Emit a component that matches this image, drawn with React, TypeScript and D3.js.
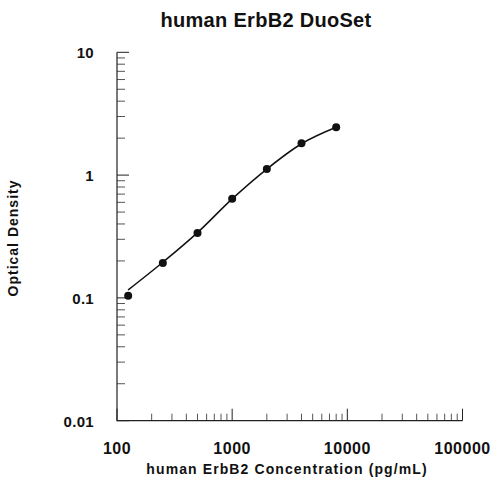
import React, { useEffect, useRef } from 'react';
import * as d3 from 'd3';

const concentrations = [125, 250, 500, 1000, 2000, 4000, 8000];
const odValues = [0.104, 0.192, 0.337, 0.641, 1.12, 1.82, 2.45];
// fitted curve values
const fitValues = [0.116, 0.195, 0.34, 0.64, 1.12, 1.8, 2.45];
const xTickLabels = ['100', '1000', '10000', '100000'];
const yTickLabels = ['0.01', '0.1', '1', '10'];

const W = 491;
const H = 482;

const App = () => {
  const svgRef = useRef<SVGSVGElement | null>(null);

  useEffect(() => {
    if (!svgRef.current) return;
    const svg = d3.select(svgRef.current);
    svg.selectAll('*').remove();

    const x = d3.scaleLog().domain([100, 100000]).range([117, 462.5]);
    const y = d3.scaleLog().domain([0.01, 10]).range([420.7, 52.3]);
    const font = 'Liberation Sans, Arial, Helvetica, sans-serif';

    // title
    svg.append('text')
      .attr('x', 266)
      .attr('y', 27)
      .attr('text-anchor', 'middle')
      .style('font-family', font)
      .style('font-weight', 'bold')
      .style('font-size', '20px')
      .style('letter-spacing', '0.3px')
      .attr('fill', '#111')
      .text('human ErbB2 DuoSet');

    // minor + major ticks
    const xMinor: number[] = [];
    const yMinor: number[] = [];
    for (let d = 100; d < 100000; d *= 10) for (let k = 2; k < 10; k++) xMinor.push(d * k);
    for (let d = 0.01; d < 9; d *= 10) for (let k = 2; k < 10; k++) yMinor.push(+(d * k).toPrecision(3));
    const xMajor = xTickLabels.map(Number);
    const yMajor = yTickLabels.map(Number);

    const g = svg.append('g');

    g.selectAll('.xminor').data(xMinor).enter().append('line')
      .attr('x1', d => x(d)).attr('x2', d => x(d))
      .attr('y1', y.range()[0]).attr('y2', y.range()[0] - 7)
      .attr('stroke', '#555').attr('stroke-width', 1);
    g.selectAll('.xmajor').data(xMajor).enter().append('line')
      .attr('x1', d => x(d)).attr('x2', d => x(d))
      .attr('y1', y.range()[0]).attr('y2', y.range()[0] - 12)
      .attr('stroke', '#222').attr('stroke-width', 1);

    g.selectAll('.yminor').data(yMinor).enter().append('line')
      .attr('x1', x.range()[0]).attr('x2', x.range()[0] + 8)
      .attr('y1', d => y(d)).attr('y2', d => y(d))
      .attr('stroke', '#555').attr('stroke-width', 1);
    g.selectAll('.ymajor').data(yMajor).enter().append('line')
      .attr('x1', x.range()[0]).attr('x2', x.range()[0] + 12)
      .attr('y1', d => y(d)).attr('y2', d => y(d))
      .attr('stroke', '#222').attr('stroke-width', 1);

    // axis lines
    g.append('path')
      .attr('d', `M${x.range()[0]},${y.range()[1]}V${y.range()[0]}H${x.range()[1]}`)
      .attr('fill', 'none')
      .attr('stroke', '#222')
      .attr('stroke-width', 1.2);

    // tick labels
    svg.selectAll('.xlab').data(xTickLabels).enter().append('text')
      .attr('x', d => x(+d))
      .attr('y', 454)
      .attr('text-anchor', 'middle')
      .style('font-family', font)
      .style('font-weight', 'bold')
      .style('font-size', '16px')
      .style('letter-spacing', '0.5px')
      .attr('fill', '#111')
      .text(d => d);

    svg.selectAll('.ylab').data(yTickLabels).enter().append('text')
      .attr('x', 94)
      .attr('y', d => y(+d) + 6)
      .attr('text-anchor', 'end')
      .style('font-family', font)
      .style('font-weight', 'bold')
      .style('font-size', '15px')
      .style('letter-spacing', '0.3px')
      .attr('fill', '#111')
      .text(d => d);

    // axis titles
    svg.append('text')
      .attr('x', 287)
      .attr('y', 474)
      .attr('text-anchor', 'middle')
      .style('font-family', font)
      .style('font-weight', 'bold')
      .style('font-size', '14px')
      .style('letter-spacing', '1.1px')
      .attr('fill', '#111')
      .text('human ErbB2 Concentration (pg/mL)');

    svg.append('text')
      .attr('transform', 'translate(18,238) rotate(-90)')
      .attr('text-anchor', 'middle')
      .style('font-family', font)
      .style('font-weight', 'bold')
      .style('font-size', '14px')
      .style('letter-spacing', '1px')
      .attr('fill', '#111')
      .text('Optical Density');

    // fit curve
    const line = d3.line<number>()
      .x((_, i) => x(concentrations[i]))
      .y(d => y(d))
      .curve(d3.curveMonotoneX);
    svg.append('path')
      .datum(fitValues)
      .attr('d', line)
      .attr('fill', 'none')
      .attr('stroke', '#111')
      .attr('stroke-width', 1.5);

    // points
    svg.selectAll('.pt').data(odValues).enter().append('circle')
      .attr('cx', (_, i) => x(concentrations[i]))
      .attr('cy', d => y(d))
      .attr('r', 4)
      .attr('fill', '#111');
  }, []);

  return (
    <svg
      ref={svgRef}
      width={W}
      height={H}
      viewBox={`0 0 ${W} ${H}`}
      style={{ position: 'absolute', left: 0, top: 0, background: '#fff' }}
    />
  );
};

export default App;
